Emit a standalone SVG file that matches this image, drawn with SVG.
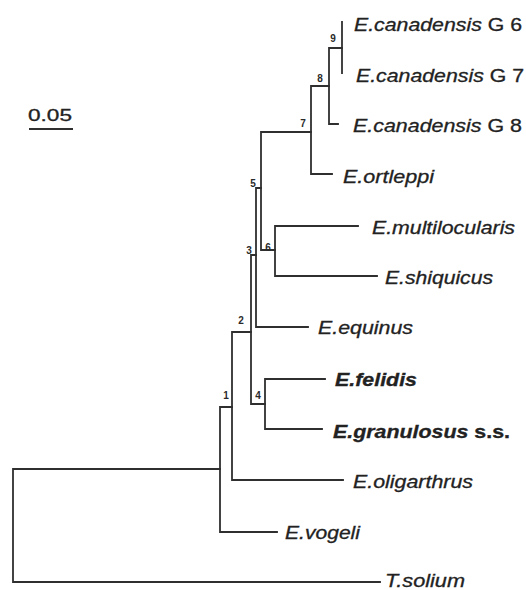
<svg xmlns="http://www.w3.org/2000/svg" width="526" height="590" viewBox="0 0 526 590">
<style>
.br{fill:none;stroke:#2f2f2f;stroke-width:1.8;stroke-linecap:square}
.t{font-family:"Liberation Sans",Arial,sans-serif;font-size:18px;fill:#222;stroke:#222;stroke-width:0.3}
.i{font-style:italic}
.b{font-weight:bold}
.n{font-family:"Liberation Sans",Arial,sans-serif;font-size:10px;font-weight:bold;fill:#2a2a2a;text-anchor:middle}
</style>
<rect width="526" height="590" fill="#ffffff"/>
<g id="connectors">
<path class="br" d="M13,469 V582 H380 M13,469 H220"/>
<path class="br" d="M220,407 V532 H277 M220,407 H232"/>
<path class="br" d="M232,332 V480 H343 M232,332 H251"/>
<path class="br" d="M251,255 V404 H265 M251,255 H256"/>
<path class="br" d="M265,379 V429 M265,379 H325 M265,429 H322"/>
<path class="br" d="M256,188 V327 H308 M256,188 H261"/>
<path class="br" d="M261,132 V250 H275 M261,132 H311"/>
<path class="br" d="M275,226 V276 M275,226 H358 M275,276 H377"/>
<path class="br" d="M311,86 V174 H332 M311,86 H329"/>
<path class="br" d="M329,48 V124 H338 M329,48 H342"/>
<path class="br" d="M342,22 V73"/>
</g>
<g id="scale">
<text x="50" y="121" font-family="Liberation Sans, Arial, sans-serif" font-size="16" fill="#222" stroke="#222" stroke-width="0.3" text-anchor="middle" textLength="44" lengthAdjust="spacingAndGlyphs">0.05</text>
<line x1="29" y1="129" x2="73" y2="129" stroke="#2f2f2f" stroke-width="1.8"/>
</g>
<g id="node-labels">
<text class="n" x="226" y="399">1</text>
<text class="n" x="241" y="324">2</text>
<text class="n" x="249" y="254">3</text>
<text class="n" x="258" y="399">4</text>
<text class="n" x="253" y="187">5</text>
<text class="n" x="268" y="251">6</text>
<text class="n" x="303" y="127">7</text>
<text class="n" x="320" y="82">8</text>
<text class="n" x="333" y="42">9</text>
</g>
<g id="leaf-g6"><text class="t" x="354" y="31" textLength="168" lengthAdjust="spacingAndGlyphs"><tspan class="i">E.canadensis</tspan> G 6</text></g>
<g id="leaf-g7"><text class="t" x="356" y="82" textLength="168" lengthAdjust="spacingAndGlyphs"><tspan class="i">E.canadensis</tspan> G 7</text></g>
<g id="leaf-g8"><text class="t" x="353" y="132" textLength="169" lengthAdjust="spacingAndGlyphs"><tspan class="i">E.canadensis</tspan> G 8</text></g>
<g id="leaf-ortleppi"><text class="t i" x="343" y="183" textLength="91" lengthAdjust="spacingAndGlyphs">E.ortleppi</text></g>
<g id="leaf-multilocularis"><text class="t i" x="372" y="234" textLength="143" lengthAdjust="spacingAndGlyphs">E.multilocularis</text></g>
<g id="leaf-shiquicus"><text class="t i" x="385" y="284" textLength="108" lengthAdjust="spacingAndGlyphs">E.shiquicus</text></g>
<g id="leaf-equinus"><text class="t i" x="318" y="334" textLength="95" lengthAdjust="spacingAndGlyphs">E.equinus</text></g>
<g id="leaf-felidis"><text class="t i b" x="335" y="386" textLength="82" lengthAdjust="spacingAndGlyphs">E.felidis</text></g>
<g id="leaf-granulosus"><text class="t b" x="333" y="438" textLength="177" lengthAdjust="spacingAndGlyphs"><tspan class="i">E.granulosus</tspan> s.s.</text></g>
<g id="leaf-oligarthrus"><text class="t i" x="353" y="488" textLength="120" lengthAdjust="spacingAndGlyphs">E.oligarthrus</text></g>
<g id="leaf-vogeli"><text class="t i" x="285" y="539" textLength="75" lengthAdjust="spacingAndGlyphs">E.vogeli</text></g>
<g id="leaf-solium"><text class="t i" x="385" y="587" textLength="80" lengthAdjust="spacingAndGlyphs">T.solium</text></g>
</svg>
